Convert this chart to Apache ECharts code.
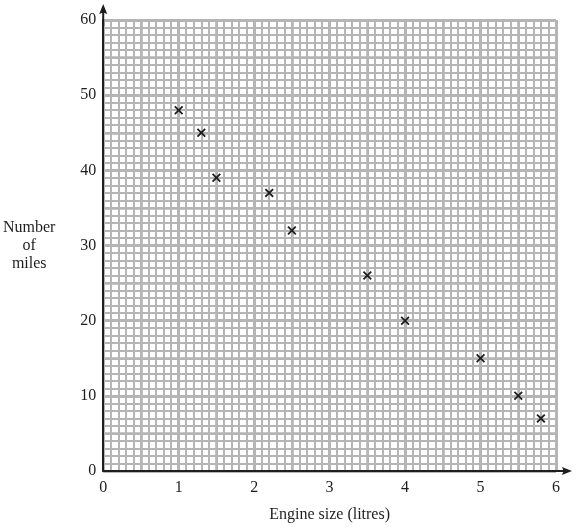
<!DOCTYPE html>
<html>
<head>
<meta charset="utf-8">
<script src="https://cdn.jsdelivr.net/npm/echarts@6/dist/echarts.min.js"></script>
<style>
  html, body { margin: 0; padding: 0; background: #fff; }
  #chart { width: 576px; height: 528px; }
</style>
</head>
<body>
<div id="chart"></div>
<script>
  // engine size (litres) against number of miles
  const engineSize = [1, 1.3, 1.5, 2.2, 2.5, 3.5, 4, 5, 5.5, 5.8]
  const miles = [48, 45, 39, 37, 32, 26, 20, 15, 10, 7]

  const xRange = [0, 6]
  const yRange = [0, 60]

  const gridColor = '#b5b5b5'
  const inkColor = '#1e1e1e'
  const font = 'Liberation Serif'

  // arrow head with a short stem so it joins the axis line
  const arrowPath = 'path://M4,0L8,10L4,8.4L0,10Z M3,8L5,8L5,22L3,22Z'
  const crossPath = 'path://M0,1.4L1.4,0L5,3.6L8.6,0L10,1.4L6.4,5L10,8.6L8.6,10L5,6.4L1.4,10L0,8.6L3.6,5Z'

  const chart = echarts.init(document.getElementById('chart'))

  const mainAxis = (min, max, interval, extra) => Object.assign({
    type: 'value',
    min: min,
    max: max,
    interval: interval,
    z: 2,
    axisLine: {
      show: true,
      onZero: false,
      symbol: ['none', arrowPath],
      symbolSize: [8, 22],
      symbolOffset: [0, 5],
      lineStyle: { color: inkColor, width: 2 }
    },
    axisTick: { show: false },
    axisLabel: { color: inkColor, fontFamily: font, fontSize: 16 },
    splitLine: { show: true, lineStyle: { color: gridColor, width: 3 } },
    minorTick: { show: false, splitNumber: 10 },
    minorSplitLine: { show: true, lineStyle: { color: gridColor, width: 2 } }
  }, extra)

  // helper axes only for the half-way grid lines
  const halfAxis = (min, max, interval, position) => ({
    type: 'value',
    min: min,
    max: max,
    interval: interval,
    position: position,
    z: 1,
    axisLine: { show: false },
    axisTick: { show: false },
    axisLabel: { show: false },
    splitLine: { show: true, lineStyle: { color: gridColor, width: 2.6 } }
  })

  const options = {
    animation: false,
    backgroundColor: '#fff',
    grid: {
      left: 103,
      right: 20,
      top: 20,
      bottom: 57,
      containLabel: false
    },
    xAxis: [
      mainAxis(xRange[0], xRange[1], 1, {
        position: 'bottom',
        name: 'Engine size (litres)',
        nameLocation: 'middle',
        nameGap: 36,
        nameTextStyle: { color: inkColor, fontFamily: font, fontSize: 16 },
        axisLabel: { color: inkColor, fontFamily: font, fontSize: 16, margin: 9 }
      }),
      halfAxis(xRange[0], xRange[1], 0.5, 'top')
    ],
    yAxis: [
      mainAxis(yRange[0], yRange[1], 10, {
        position: 'left',
        name: 'Number\nof\nmiles',
        nameLocation: 'middle',
        nameRotate: 0,
        nameGap: 74,
        nameTextStyle: {
          color: inkColor, fontFamily: font, fontSize: 16,
          align: 'center', lineHeight: 18
        },
        axisLabel: { color: inkColor, fontFamily: font, fontSize: 16, margin: 7 }
      }),
      halfAxis(yRange[0], yRange[1], 5, 'right')
    ],
    series: [
      {
        type: 'scatter',
        xAxisIndex: 0,
        yAxisIndex: 0,
        z: 5,
        symbol: crossPath,
        symbolSize: 9,
        itemStyle: { color: inkColor, opacity: 1 },
        emphasis: { disabled: true },
        data: engineSize.map((v, i) => [v, miles[i]])
      }
    ]
  }

  chart.setOption(options)
</script>
</body>
</html>
